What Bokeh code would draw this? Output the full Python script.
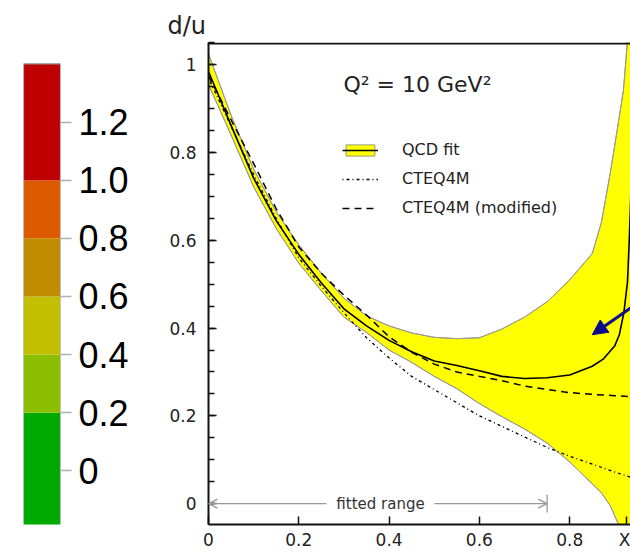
from bokeh.plotting import figure
from bokeh.models import (LinearAxis, FixedTicker, Label, Legend, LegendItem, Arrow,
                          NormalHead, OpenHead, Range1d, PrintfTickFormatter, Span)
from bokeh.layouts import row
from bokeh.embed import file_html
from bokeh.resources import INLINE

# ---------------- colour scale (left) ----------------
cb_edges = [-0.2, 0.2, 0.4, 0.6, 0.8, 1.0, 1.4]
cb_colors = ["#00AA00", "#8CBE00", "#C0C000", "#C08C00", "#DD5A00", "#BE0000"]
cb_ticks = [0.0, 0.2, 0.4, 0.6, 0.8, 1.0, 1.2]

# ---------------- d/u plot data ----------------
x_band = [0.0, 0.05, 0.1, 0.15, 0.2, 0.25, 0.3, 0.35, 0.4, 0.45, 0.5, 0.55, 0.6, 0.65,
          0.7, 0.75, 0.8, 0.85, 0.87, 0.89, 0.905, 0.919, 0.93, 0.95]
qcd_upper = [1.025, 0.885, 0.762, 0.665, 0.59, 0.525, 0.468, 0.428, 0.405, 0.389, 0.379,
             0.376, 0.378, 0.398, 0.425, 0.46, 0.51, 0.57, 0.64, 0.754, 0.85, 0.942, 1.08, 1.4]
qcd_lower = [0.955, 0.84, 0.722, 0.627, 0.548, 0.485, 0.425, 0.39, 0.35, 0.322, 0.29,
             0.262, 0.228, 0.198, 0.17, 0.138, 0.095, 0.045, 0.025, -0.005, -0.04, -0.08, -0.12, -0.3]

x_fit = [0.0, 0.05, 0.1, 0.15, 0.2, 0.25, 0.3, 0.35, 0.4, 0.45, 0.5, 0.55, 0.6, 0.65, 0.7,
         0.75, 0.8, 0.85, 0.875, 0.9, 0.91, 0.92, 0.928, 0.932, 0.936, 0.94]
qcd_fit = [0.985, 0.862, 0.742, 0.645, 0.568, 0.503, 0.444, 0.405, 0.372, 0.346, 0.325,
           0.315, 0.303, 0.29, 0.285, 0.287, 0.293, 0.313, 0.33, 0.36, 0.385, 0.435, 0.505,
           0.6, 0.72, 0.85]

x_cteq = [0.0, 0.05, 0.1, 0.15, 0.2, 0.25, 0.3, 0.35, 0.4, 0.45, 0.5, 0.55, 0.6, 0.65, 0.7,
          0.75, 0.8, 0.85, 0.9, 0.95]
cteq4m = [0.97, 0.86, 0.75, 0.65, 0.56, 0.495, 0.435, 0.378, 0.332, 0.29, 0.26, 0.23, 0.2,
          0.176, 0.152, 0.128, 0.108, 0.09, 0.072, 0.055]
cteq4m_mod = [0.975, 0.875, 0.775, 0.672, 0.585, 0.525, 0.475, 0.43, 0.38, 0.345, 0.318,
              0.30, 0.29, 0.28, 0.268, 0.26, 0.253, 0.249, 0.246, 0.243]

x_ticks = [0.0, 0.2, 0.4, 0.6, 0.8]
x_title_pos = 0.925
y_ticks = [0.0, 0.2, 0.4, 0.6, 0.8, 1.0]
y_minor = [-0.05 + 0.05 * i for i in range(23)]
fitted_range = [0.0, 0.75]
arrow_from = (0.957, 0.462)
arrow_to = (0.850, 0.385)

# ---------------- colour bar figure ----------------
# (frames in a row are aligned, so this frame matches the main frame; the bar sits inside)
p1 = figure(width=160, height=552, x_range=Range1d(0, 1), y_range=Range1d(-0.1846, 1.4735),
            x_axis_type=None, y_axis_type=None, toolbar_location=None,
            output_backend="svg", min_border_left=23, min_border_right=100,
            min_border_top=42, min_border_bottom=25, outline_line_color=None)
p1.grid.visible = False
p1.quad(left=0, right=1, bottom=cb_edges[:-1], top=cb_edges[1:], fill_color=cb_colors,
        line_color=None)
p1.quad(left=0, right=1, bottom=cb_edges[0], top=cb_edges[-1], fill_color=None,
        line_color="#999999", line_width=1.2)
ax = LinearAxis(ticker=FixedTicker(ticks=cb_ticks),
                formatter=PrintfTickFormatter(format="%.1f"),
                major_label_overrides={0: "0"},
                axis_line_color=None, major_tick_out=11, major_tick_in=0,
                major_tick_line_color="#b0b0b0", major_tick_line_width=1.5,
                minor_tick_line_color=None, major_label_standoff=7,
                major_label_text_font="Liberation Sans",
                major_label_text_font_size="36px", major_label_text_color="#000000")
p1.add_layout(ax, "right")

# ---------------- main figure ----------------
FONT = "DejaVu Sans"
Y_TOP = 1.051
p = figure(width=470, height=552, x_range=Range1d(0, 0.9347), y_range=Range1d(-0.0476, Y_TOP),
           toolbar_location=None, output_backend="svg", min_border_left=48,
           min_border_right=0, min_border_top=42, min_border_bottom=25,
           outline_line_color=None, title="d/u")
p.grid.visible = False
p.title.text_font = FONT
p.title.text_font_size = "24px"
p.title.text_font_style = "normal"
p.title.text_color = "#222222"
p.title.align = "left"
p.title.offset = -41
p.title.standoff = 6

band_x = x_band + x_band[::-1]
band_y = qcd_upper + qcd_lower[::-1]
band = p.patch(band_x, band_y, fill_color="#FFFF00", line_color="#9a9a7a", line_width=1)
p.line(x_band, qcd_upper, line_color="#999999", line_width=1)
p.line(x_band, qcd_lower, line_color="#999999", line_width=1)
cteq = p.line(x_cteq, cteq4m, line_color="#000000", line_width=1.3, line_dash="1 3 3 3")
mod = p.line(x_cteq, cteq4m_mod, line_color="#000000", line_width=1.5, line_dash="7 5")
fit = p.line(x_fit, qcd_fit, line_color="#000000", line_width=1.6)

# axes styling
p.xaxis.ticker = FixedTicker(ticks=x_ticks + [x_title_pos])
p.xaxis.major_label_overrides = {0: "0", x_title_pos: "X"}
p.yaxis.ticker = FixedTicker(ticks=y_ticks, minor_ticks=y_minor)
p.yaxis.major_label_overrides = {0: "0", 1: "1"}
for a in (p.xaxis[0], p.yaxis[0]):
    a.axis_line_width = 2
    a.axis_line_color = "#111111"
    a.major_tick_in = 8
    a.major_tick_out = 0
    a.major_tick_line_width = 1.5
    a.major_tick_line_color = "#111111"
    a.major_label_text_font = FONT
    a.major_label_text_font_size = "17px"
    a.major_label_text_color = "#222222"
p.xaxis.minor_tick_line_color = None
p.xaxis.major_label_standoff = 5
p.yaxis.minor_tick_in = 6
p.yaxis.minor_tick_out = 0
p.yaxis.minor_tick_line_width = 1.5
p.yaxis.minor_tick_line_color = "#111111"
p.yaxis.major_label_standoff = 12

# top frame line
p.add_layout(Span(location=Y_TOP - 0.0025, dimension="width", line_color="#111111",
                  line_width=2))

# legend
legend = Legend(items=[LegendItem(label="QCD fit", renderers=[band, fit]),
                       LegendItem(label="CTEQ4M", renderers=[cteq]),
                       LegendItem(label="CTEQ4M (modified)", renderers=[mod])],
                location=(134, 307), glyph_width=36, glyph_height=14, label_standoff=24,
                spacing=10, padding=0, margin=0, border_line_color=None,
                background_fill_alpha=0, label_text_font=FONT, label_text_font_size="16px",
                label_text_color="#222222")
p.add_layout(legend)

# texts
p.add_layout(Label(x=0.299, y=0.956, text="Q² = 10 GeV²", text_font=FONT,
                   text_font_size="22px", text_baseline="middle", text_color="#222222"))
p.add_layout(Label(x=0.381, y=0.0, text="fitted range", text_font=FONT,
                   text_font_size="15px", text_baseline="middle", text_align="center",
                   text_color="#333333"))

# fitted range arrows
gray = "#999999"
p.add_layout(Arrow(end=OpenHead(size=9, line_color=gray, line_width=1.3),
                   x_start=0.261, y_start=0, x_end=fitted_range[0], y_end=0,
                   line_color=gray, line_width=1.3))
p.add_layout(Arrow(end=OpenHead(size=9, line_color=gray, line_width=1.3),
                   x_start=0.50, y_start=0, x_end=fitted_range[1], y_end=0,
                   line_color=gray, line_width=1.3))
p.segment(x0=[fitted_range[1]], y0=[-0.02], x1=[fitted_range[1]], y1=[0.02],
          line_color=gray, line_width=1.3)

# blue arrow
navy = "#0c0c8a"
p.add_layout(Arrow(end=NormalHead(size=15, fill_color=navy, line_color=navy),
                   x_start=arrow_from[0], y_start=arrow_from[1],
                   x_end=arrow_to[0], y_end=arrow_to[1], line_color=navy, line_width=3))

layout = row(p1, p)
open("out.html", "w").write(file_html(layout, INLINE))
